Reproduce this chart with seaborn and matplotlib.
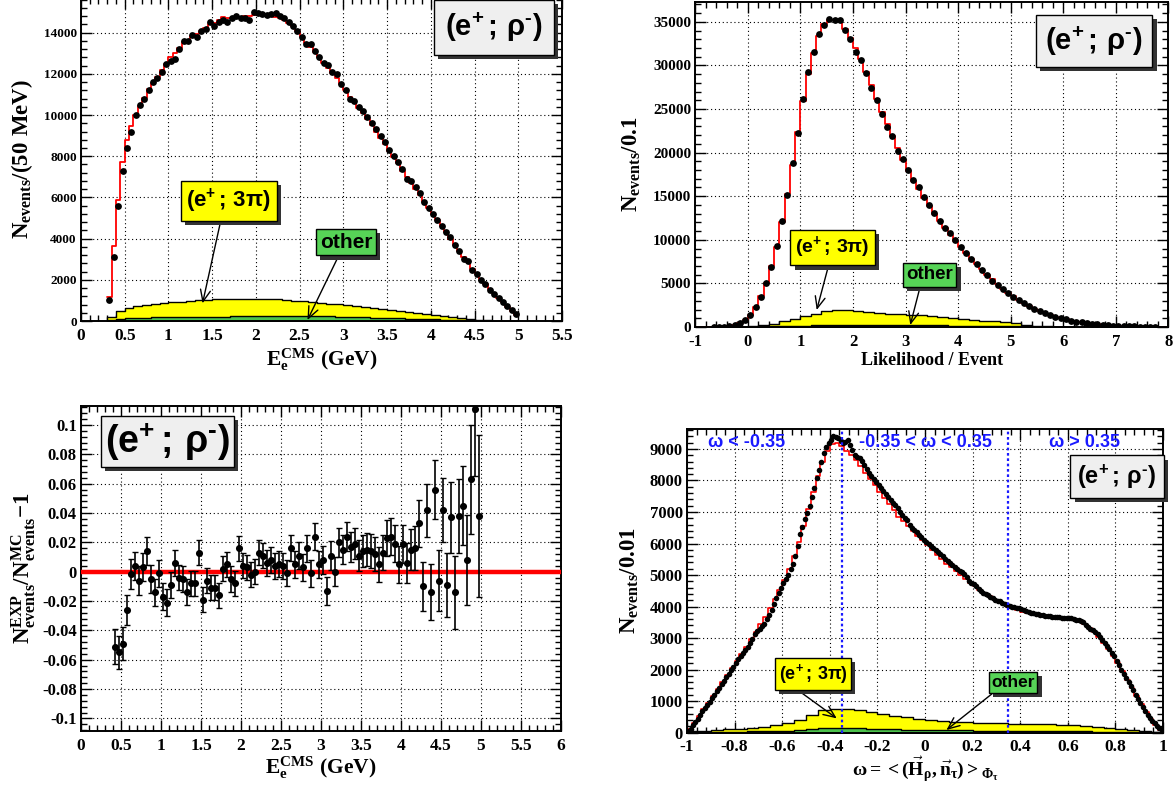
"""
Four-panel selection plot for the (e+ ; rho-) channel: electron energy,
likelihood per event, data/MC residual and the omega spectrum.
"""
import numpy as np
import matplotlib

matplotlib.use("Agg")
import matplotlib.pyplot as plt  # noqa: E402
import matplotlib.patheffects as pe  # noqa: E402
from matplotlib.ticker import MultipleLocator, FuncFormatter  # noqa: E402
import seaborn as sns  # noqa: E402

# ─────────────────────────────────────────────────────────────────────────────
#  Panel 1 — electron energy in CMS, 50 MeV bins starting at 0.30 GeV
# ─────────────────────────────────────────────────────────────────────────────
E_LO, E_BIN = 0.30, 0.05
e_data = [
    1000, 3100, 5600, 7300, 8400, 9200, 10000, 10500, 10800, 11200,
    11600, 11800, 12100, 12500, 12600, 12700, 13200, 13600, 13600, 13900,
    13800, 14100, 14200, 14500, 14300, 14500, 14600, 14500, 14700, 14800,
    14700, 14700, 14600, 15000, 14950, 14900, 14850, 14900, 14950, 14800,
    14700, 14500, 14300, 14100, 13800, 13450, 13450, 13100, 12800, 12550,
    12450, 12100, 12000, 11500, 11200, 10800, 10700, 10400, 10200, 9900,
    9600, 9300, 9000, 8700, 8300, 8000, 7700, 7400, 6900, 6800,
    6500, 6200, 5800, 5500, 5200, 4900, 4600, 4300, 4100, 3700,
    3400, 3000, 2900, 2500, 2300, 2000, 1800, 1500, 1300, 1100,
    900, 750, 550, 350,
]
e_mc = [
    1150, 3650, 5900, 7700, 8800, 9450, 10000, 10450, 10850, 11250,
    11550, 11850, 12200, 12500, 12800, 13000, 13250, 13550, 13650, 13850,
    13950, 14100, 14250, 14400, 14450, 14600, 14750, 14700, 14700, 14750,
    14750, 14800, 14800, 14850, 14850, 14850, 14800, 14800, 14750, 14700,
    14600, 14450, 14300, 14100, 13800, 13500, 13300, 13050, 12800, 12550,
    12300, 12050, 11800, 11500, 11200, 10900, 10650, 10350, 10100, 9800,
    9500, 9200, 8900, 8600, 8250, 7950, 7650, 7300, 7000, 6700,
    6400, 6100, 5800, 5500, 5200, 4900, 4600, 4300, 4000, 3700,
    3400, 3100, 2850, 2550, 2300, 2050, 1800, 1550, 1350, 1100,
    900, 700, 500, 300,
]
# backgrounds, 100 MeV bins: total (3pi + other) and the "other" part
EB_LO, EB_BIN = 0.30, 0.10
e_bkg_total = [
    200, 480, 640, 730, 780, 820, 860, 900, 940, 970,
    1000, 1030, 1050, 1070, 1080, 1085, 1085, 1080, 1070, 1050,
    1020, 990, 950, 910, 880, 850, 820, 790, 750, 700,
    650, 600, 540, 480, 430, 380, 330, 290, 230, 180,
    130, 90, 55, 30, 15, 5, 0,
]
e_bkg_other = [
    40, 100, 140, 160, 170, 175, 180, 185, 190, 195,
    200, 205, 210, 215, 220, 225, 230, 235, 240, 240,
    240, 240, 235, 230, 225, 220, 210, 200, 190, 180,
    170, 160, 145, 130, 115, 100, 90, 80, 65, 55,
    45, 35, 25, 15, 10, 5, 0,
]

# ─────────────────────────────────────────────────────────────────────────────
#  Panel 2 — likelihood per event, 0.1 bins from -1 to 8
# ─────────────────────────────────────────────────────────────────────────────
L_LO, L_BIN = -1.0, 0.1
nan = float("nan")
lk_data = [
    nan, nan, nan, 10, 20, 40, 80, 200, 450, 800,
    1400, 2300, 3450, 5000, 6900, 9300, 12100, 15100, 18800, 22200,
    26100, 29200, 31550, 33650, 34600, 35300, 35150, 35200, 34050, 33000,
    31550, 30600, 29100, 27400, 26000, 24400, 22900, 21900, 20200, 19250,
    18000, 16900, 16000, 14950, 14000, 13100, 12200, 11300, 10800, 9950,
    9200, 8450, 7750, 7200, 6550, 5950, 5300, 4850, 4400, 3950,
    3450, 3100, 2700, 2400, 2050, 1850, 1570, 1380, 1180, 1000,
    880, 730, 610, 530, 430, 360, 300, 250, 200, 170,
    130, 100, 80, 60, 45, 35, 25, 15, nan, nan,
]
lk_mc = [
    0, 0, 0, 10, 25, 50, 90, 190, 420, 820,
    1420, 2330, 3500, 5050, 6950, 9200, 12000, 15200, 18600, 22400,
    25900, 29000, 31400, 33400, 34700, 35200, 35200, 35100, 34200, 33100,
    32000, 30700, 29300, 27700, 26200, 24700, 23300, 21900, 20500, 19200,
    17900, 16800, 15800, 14800, 13900, 13000, 12200, 11400, 10600, 9900,
    9200, 8500, 7850, 7200, 6600, 6000, 5450, 4900, 4400, 3950,
    3500, 3100, 2750, 2400, 2100, 1850, 1600, 1400, 1200, 1030,
    880, 740, 620, 520, 430, 350, 290, 240, 190, 150,
    120, 90, 70, 50, 40, 30, 20, 15, 10, 5,
]
LB_LO, LB_BIN = -0.2, 0.2
lk_bkg_total = [
    20, 80, 200, 400, 650, 950, 1250, 1550, 1800, 1900,
    1900, 1850, 1750, 1650, 1550, 1450, 1400, 1350, 1250, 1150,
    1050, 950, 850, 730, 640, 540, 420, 280, 150, 60,
    20, 5,
]
lk_bkg_other = [
    0, 10, 30, 60, 90, 120, 150, 180, 200, 210,
    220, 220, 220, 220, 215, 210, 205, 200, 190, 180,
    170, 160, 150, 135, 120, 100, 80, 60, 40, 25,
    10, 5,
]

# ─────────────────────────────────────────────────────────────────────────────
#  Panel 3 — N_exp / N_mc - 1 versus electron energy (50 MeV bins from 0.40)
# ─────────────────────────────────────────────────────────────────────────────
R_LO, R_BIN = 0.40, 0.05
res_val = [
    -0.051, -0.055, -0.049, -0.026, -0.0015, 0.004, -0.006, 0.003, 0.014, -0.005,
    -0.014, -0.001, -0.017, -0.021, -0.009, 0.006, -0.004, -0.005, -0.014, -0.008,
    -0.008, 0.013, -0.019, -0.006, -0.011, -0.011, -0.016, 0.002, 0.005, -0.005,
    -0.008, 0.016, 0.004, 0.003, -0.002, 0.000, 0.013, 0.011, 0.006, 0.008,
    0.004, 0.005, 0.004, -0.001, 0.016, 0.005, 0.011, 0.003, 0.016, -0.001,
    0.024, 0.005, 0.008, -0.013, 0.011, 0.000, 0.020, 0.015, 0.024, 0.017,
    0.019, 0.011, 0.014, 0.015, 0.014, 0.012, 0.005, 0.013, 0.023, 0.024,
    0.019, 0.005, 0.019, 0.006, 0.015, 0.016, 0.033, -0.010, 0.042, -0.014,
    0.056, -0.006, 0.042, -0.009, 0.037, -0.014, 0.038, 0.045, 0.008, 0.063,
    0.111, 0.038,
]
res_err = [
    0.012, 0.011, 0.011, 0.010, 0.010, 0.0097, 0.0097, 0.0095, 0.0095, 0.0093,
    0.0093, 0.0092, 0.0090, 0.0090, 0.0089, 0.0089, 0.0088, 0.0088, 0.0087, 0.0087,
    0.0086, 0.0086, 0.0086, 0.0086, 0.0086, 0.0086, 0.0086, 0.0086, 0.0086, 0.0086,
    0.0086, 0.0086, 0.0086, 0.0086, 0.0086, 0.0086, 0.0087, 0.0087, 0.0087, 0.0087,
    0.0088, 0.0088, 0.0088, 0.0089, 0.0089, 0.0090, 0.0090, 0.0091, 0.0091, 0.0092,
    0.0093, 0.0094, 0.0095, 0.0096, 0.0097, 0.0098, 0.0099, 0.0100, 0.0102, 0.0104,
    0.0106, 0.0108, 0.0110, 0.0112, 0.0114, 0.0116, 0.0118, 0.0120, 0.0122, 0.0124,
    0.0126, 0.0128, 0.0130, 0.0135, 0.0140, 0.0150, 0.0160, 0.0165, 0.0180, 0.0190,
    0.0200, 0.0210, 0.0220, 0.0220, 0.0240, 0.0250, 0.0250, 0.0270, 0.0310, 0.0370,
    0.0460, 0.0550,
]

# ─────────────────────────────────────────────────────────────────────────────
#  Panel 4 — omega spectrum, data in 0.01 bins, MC in 0.02 bins
# ─────────────────────────────────────────────────────────────────────────────
W_LO, W_BIN = -1.0, 0.01
om_data = [
    40, 120, 230, 330, 440, 560, 680, 780, 880, 980,
    1090, 1200, 1310, 1400, 1530, 1640, 1760, 1870, 1990, 2090,
    2200, 2330, 2430, 2520, 2630, 2720, 2850, 2980, 3120, 3230,
    3300, 3380, 3460, 3600, 3740, 3890, 4080, 4260, 4440, 4600,
    4740, 4870, 5000, 5180, 5350, 5600, 5920, 6290, 6520, 6780,
    6980, 7200, 7480, 7760, 8070, 8330, 8600, 8880, 9050, 9200,
    9300, 9420, 9380, 9350, 9260, 9180, 9220, 9300, 9140, 8980,
    8800, 8760, 8700, 8620, 8480, 8360, 8250, 8150, 8060, 7950,
    7850, 7760, 7670, 7570, 7480, 7390, 7300, 7220, 7130, 7000,
    6900, 6820, 6760, 6600, 6480, 6420, 6350, 6280, 6200, 6100,
    6050, 5980, 5930, 5860, 5800, 5740, 5680, 5600, 5520, 5450,
    5380, 5330, 5250, 5180, 5130, 5100, 5020, 4930, 4820, 4760,
    4700, 4640, 4560, 4500, 4420, 4400, 4350, 4310, 4260, 4220,
    4190, 4160, 4120, 4080, 4050, 4020, 4000, 3970, 3960, 3940,
    3920, 3880, 3850, 3820, 3800, 3790, 3760, 3750, 3740, 3720,
    3710, 3700, 3690, 3680, 3670, 3660, 3660, 3650, 3640, 3630,
    3630, 3620, 3600, 3580, 3560, 3540, 3500, 3420, 3360, 3300,
    3250, 3200, 3120, 3020, 2930, 2840, 2740, 2650, 2540, 2420,
    2270, 2140, 2000, 1870, 1740, 1600, 1470, 1340, 1200, 1080,
    950, 810, 690, 570, 460, 370, 290, 220, 150, 80,
]
WM_LO, WM_BIN = -1.0, 0.02
om_mc = [
    100, 300, 520, 740, 950, 1170, 1380, 1600, 1830, 2050,
    2280, 2500, 2730, 2960, 3200, 3430, 3680, 3950, 4230, 4530,
    4850, 5200, 5600, 6050, 6550, 7100, 7650, 8150, 8600, 8950,
    9150, 9200, 9100, 8950, 8800, 8650, 8450, 8250, 8050, 7850,
    7650, 7450, 7250, 7050, 6850, 6700, 6550, 6400, 6250, 6100,
    5950, 5800, 5650, 5500, 5350, 5250, 5120, 5000, 4880, 4760,
    4640, 4530, 4430, 4330, 4240, 4150, 4070, 4000, 3940, 3890,
    3840, 3800, 3770, 3740, 3710, 3690, 3670, 3650, 3630, 3610,
    3590, 3560, 3510, 3440, 3330, 3200, 3030, 2840, 2640, 2430,
    2200, 1950, 1680, 1420, 1160, 900, 650, 430, 240, 90,
]
WB_LO, WB_BIN = -1.0, 0.05
om_bkg_total = [
    40, 60, 80, 100, 120, 150, 190, 240, 300, 400,
    560, 720, 750, 740, 700, 640, 580, 530, 480, 440,
    400, 370, 340, 320, 310, 300, 290, 280, 270, 265,
    255, 240, 225, 205, 180, 150, 115, 80, 45, 15,
]
om_bkg_other = [
    10, 15, 20, 25, 30, 35, 40, 50, 60, 80,
    110, 140, 150, 145, 135, 125, 115, 105, 95, 85,
    80, 75, 70, 65, 60, 57, 54, 50, 48, 45,
    42, 40, 37, 34, 30, 25, 20, 15, 10, 5,
]
omega_cuts = [-0.35, 0.35]

# ─────────────────────────────────────────────────────────────────────────────
#  Style
# ─────────────────────────────────────────────────────────────────────────────
sns.set_theme(style="ticks")
plt.rcParams.update({
    "font.family": ["Liberation Serif", "DejaVu Serif"],
    "font.weight": "bold",
    "axes.labelweight": "bold",
    "axes.unicode_minus": False,
    "mathtext.fontset": "custom",
    "mathtext.rm": "Liberation Serif:bold",
    "mathtext.it": "Liberation Serif:bold",
    "mathtext.bf": "Liberation Serif:bold",
    "mathtext.sf": "Liberation Sans:bold",
    "axes.linewidth": 1.4,
    "axes.edgecolor": "black",
    "axes.labelcolor": "black",
    "xtick.color": "black",
    "ytick.color": "black",
    "text.color": "black",
})

YELLOW = "#ffff00"
GREEN = "#4cc24c"
BOX_GREEN = "#57d457"
BOX_GREY = "#efefef"
BLUE = "#1a1aff"

# U+2010 hyphen keeps the superscript charge short, as in the original
RHO = "$\\mathsf{(e^{+}\\,;\\,\\rho^{\u2010})}$"
PI3 = r"$\mathsf{(e^{+}\,;\,3\pi)}$"
E_LABEL = r"$\mathrm{E_{e}^{CMS}\ (GeV)}$"


def tick_fmt(v, _pos):
    v = round(v, 6) + 0.0
    return "0" if v == 0 else f"{v:g}"


def edges(lo, width, n):
    return lo + width * np.arange(n + 1)


def step_hist(ax, lo, width, values, **kw):
    ed = edges(lo, width, len(values))
    sns.histplot(x=ed[:-1] + width / 2, weights=np.asarray(values, float),
                 bins=list(ed), element="step", ax=ax, **kw)


def background(ax, lo, width, total, other):
    step_hist(ax, lo, width, total, fill=True, color=YELLOW, alpha=1.0,
              edgecolor="black", linewidth=1.0)
    step_hist(ax, lo, width, other, fill=True, color=GREEN, alpha=1.0,
              edgecolor="black", linewidth=1.0)


def points(ax, lo, width, values, size):
    x = edges(lo, width, len(values))[:-1] + width / 2
    sns.scatterplot(x=x, y=values, color="black", s=size, linewidth=0,
                    zorder=5, legend=False, ax=ax)


def style_axes(ax, xlim, ylim, xmaj, xmin, ymaj, ymin, xsize, ysize):
    ax.set_xlim(*xlim)
    ax.set_ylim(*ylim)
    ax.xaxis.set_major_locator(MultipleLocator(xmaj))
    ax.xaxis.set_minor_locator(MultipleLocator(xmin))
    ax.yaxis.set_major_locator(MultipleLocator(ymaj))
    ax.yaxis.set_minor_locator(MultipleLocator(ymin))
    ax.xaxis.set_major_formatter(FuncFormatter(tick_fmt))
    ax.yaxis.set_major_formatter(FuncFormatter(tick_fmt))
    ax.tick_params(which="both", direction="in", top=True, right=True,
                   width=1.0, color="black")
    ax.tick_params(which="major", length=8)
    ax.tick_params(which="minor", length=4)
    ax.tick_params(axis="x", labelsize=xsize, pad=5)
    ax.tick_params(axis="y", labelsize=ysize, pad=3)
    ax.grid(True, which="major", ls=(0, (1, 2.5)), color="black", lw=0.8)
    ax.set_axisbelow(True)


def labels(ax, xlabel, ylabel, xsize, ysize, xy, yx):
    ax.set_xlabel(xlabel, fontsize=xsize, fontweight="bold")
    ax.set_ylabel(ylabel, fontsize=ysize, va="center", fontweight="bold")
    ax.xaxis.set_label_coords(0.5, xy)
    ax.yaxis.set_label_coords(yx, 0.5)


def tag(ax, xy, text, size, face, pad, **kw):
    t = ax.text(*xy, text, ha="center", va="center", fontsize=size, zorder=8,
                bbox=dict(boxstyle=f"square,pad={pad}", fc=face, ec="black", lw=1.0),
                **kw)
    t.get_bbox_patch().set_path_effects([
        pe.SimplePatchShadow(offset=(3, -3), shadow_rgbFace="#333333", alpha=1.0),
        pe.Normal(),
    ])


def pointer(ax, tail, head):
    ax.annotate("", xy=head, xytext=tail, zorder=7,
                arrowprops=dict(arrowstyle="->,head_length=0.7,head_width=0.3",
                                color="black", lw=1.0, shrinkA=0, shrinkB=0))


fig = plt.figure(figsize=(11.75, 7.88), dpi=100)

# ── panel 1 ─────────────────────────────────────────────────────────────────
ax1 = fig.add_axes([0.0689, 0.5926, 0.4094, 0.4104])
background(ax1, EB_LO, EB_BIN, e_bkg_total, e_bkg_other)
step_hist(ax1, E_LO, E_BIN, e_mc, fill=False, color="red", linewidth=1.3)
points(ax1, E_LO, E_BIN, e_data, 24)
style_axes(ax1, (0, 5.5), (0, 15700), 0.5, 0.1, 2000, 400, 12.5, 9.5)
labels(ax1, E_LABEL, r"$\mathrm{N_{events}/(50\ MeV)}$", 15.5, 16.5, -0.08, -0.123)
tag(ax1, (4.72, 14250), RHO, 21, BOX_GREY, 0.38)
tag(ax1, (1.69, 5830), PI3, 16, YELLOW, 0.25)
tag(ax1, (3.03, 3830), "other", 15, BOX_GREEN, 0.18,
    fontfamily="Liberation Sans", fontweight="bold")
pointer(ax1, (1.60, 4900), (1.39, 860))
pointer(ax1, (2.95, 3200), (2.59, 50))

# ── panel 2 ─────────────────────────────────────────────────────────────────
ax2 = fig.add_axes([0.5917, 0.585, 0.4027, 0.4128])
background(ax2, LB_LO, LB_BIN, lk_bkg_total, lk_bkg_other)
step_hist(ax2, L_LO, L_BIN, lk_mc, fill=False, color="red", linewidth=1.3)
points(ax2, L_LO, L_BIN, lk_data, 24)
style_axes(ax2, (-1, 8), (0, 37300), 1, 0.2, 5000, 1000, 12, 11)
labels(ax2, "Likelihood / Event", r"$\mathrm{N_{events}/0.1}$", 13, 16.5, -0.077, -0.134)
tag(ax2, (6.59, 32800), RHO, 21, BOX_GREY, 0.32)
tag(ax2, (1.61, 9120), PI3, 14, YELLOW, 0.25)
tag(ax2, (3.46, 5980), "other", 13.5, BOX_GREEN, 0.18,
    fontfamily="Liberation Sans", fontweight="bold")
pointer(ax2, (1.53, 6920), (1.31, 1950))
pointer(ax2, (3.27, 4440), (3.09, 230))

# ── panel 3 ─────────────────────────────────────────────────────────────────
ax3 = fig.add_axes([0.0689, 0.0727, 0.4085, 0.4121])
rx = edges(R_LO, R_BIN, len(res_val))[:-1] + R_BIN / 2
ax3.axhline(0, color="red", lw=3.2, zorder=3)
ax3.errorbar(rx, res_val, yerr=res_err, fmt="none", ecolor="black",
             elinewidth=1.2, capsize=2, capthick=1.0, zorder=4)
sns.scatterplot(x=rx, y=res_val, color="black", s=26, linewidth=0,
                zorder=5, legend=False, ax=ax3)
style_axes(ax3, (0, 6), (-0.1084, 0.1130), 0.5, 0.1, 0.02, 0.004, 12.5, 12)
labels(ax3, E_LABEL,
       r"$\mathrm{N^{EXP}_{events}/N^{MC}_{events}{-1}}$", 15.5, 16.5, -0.075, -0.119)
tag(ax3, (1.08, 0.0888), RHO, 27, BOX_GREY, 0.1)

# ── panel 4 ─────────────────────────────────────────────────────────────────
ax4 = fig.add_axes([0.5847, 0.0704, 0.4051, 0.3848])
background(ax4, WB_LO, WB_BIN, om_bkg_total, om_bkg_other)
step_hist(ax4, WM_LO, WM_BIN, om_mc, fill=False, color="red", linewidth=1.2)
points(ax4, W_LO, W_BIN, om_data, 16)
for cut in omega_cuts:
    ax4.axvline(cut, color=BLUE, lw=1.6, ls=(0, (1.2, 1.2)), zorder=6)
style_axes(ax4, (-1, 1), (0, 9625), 0.2, 0.04, 1000, 200, 12.5, 12)
labels(ax4, r"$\omega = <(\vec{\mathrm{H}}_{\rho},\vec{\mathrm{n}}_{\tau})>_{\Phi_{\tau}}$",
       r"$\mathrm{N_{events}/0.01}$", 14, 16.5, -0.072, -0.12)
for xpos, txt in [(-0.75, "ω < -0.35"), (0.0, "-0.35 < ω < 0.35"), (0.67, "ω > 0.35")]:
    ax4.text(xpos, 9200, txt, color=BLUE, ha="center", va="center", fontsize=13,
             fontfamily="Liberation Sans", fontweight="bold", zorder=7)
tag(ax4, (0.808, 8120), RHO, 17, BOX_GREY, 0.3)
tag(ax4, (-0.47, 1860), PI3, 13, YELLOW, 0.2)
tag(ax4, (0.37, 1590), "other", 12.5, BOX_GREEN, 0.15,
    fontfamily="Liberation Sans", fontweight="bold")
pointer(ax4, (-0.546, 1410), (-0.371, 450))
pointer(ax4, (0.28, 1220), (0.09, 80))

fig.savefig("out.png", dpi=100)
